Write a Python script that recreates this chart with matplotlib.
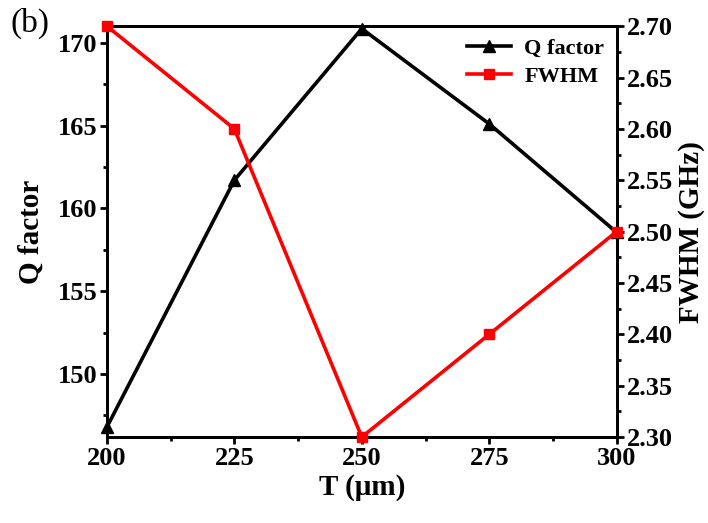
import matplotlib.pyplot as plt
from matplotlib.ticker import MultipleLocator, AutoMinorLocator

# data
thickness = [200, 225, 250, 275, 300]
q_factor = [146.8, 161.7, 170.85, 165.1, 158.55]
fwhm = [2.70, 2.60, 2.30, 2.40, 2.50]

plt.rcParams["font.family"] = "Liberation Serif"
plt.rcParams["font.weight"] = "bold"

fig = plt.figure(figsize=(7.08, 5.23), dpi=100)
ax = fig.add_axes([0.151, 0.1644, 0.72, 0.7856])
ax2 = ax.twinx()

l1, = ax.plot(thickness, q_factor, color="black", lw=2.6, marker="^", ms=8,
              label="Q factor", clip_on=False, zorder=3)
l2, = ax2.plot(thickness, fwhm, color="red", lw=2.6, marker="s", ms=7,
               label="FWHM", clip_on=False, zorder=3)

ax.set_xlim(200, 300)
ax.set_ylim(146.2, 171.0)
ax2.set_ylim(2.30, 2.70)

ax.xaxis.set_major_locator(MultipleLocator(25))
ax.xaxis.set_minor_locator(AutoMinorLocator(2))
ax.yaxis.set_major_locator(MultipleLocator(5))
ax.yaxis.set_minor_locator(AutoMinorLocator(2))
ax2.yaxis.set_major_locator(MultipleLocator(0.05))
ax2.yaxis.set_minor_locator(AutoMinorLocator(2))
ax2.yaxis.set_major_formatter(plt.FormatStrFormatter("%.2f"))

for a in (ax, ax2):
    a.tick_params(which="major", direction="out", length=5, width=2, labelsize=19, pad=2)
    a.tick_params(which="minor", direction="out", length=3, width=2)
    for s in a.spines.values():
        s.set_linewidth(2)
ax.tick_params(axis="x", top=False)

ax.set_xlabel("T (μm)", fontsize=21, fontweight="bold", labelpad=3)
ax.set_ylabel("Q factor", fontsize=21, fontweight="bold", labelpad=9)
ax2.set_ylabel("FWHM (GHz)", fontsize=21, fontweight="bold", labelpad=4)

ax2.legend(handles=[l1, l2], loc="upper right", frameon=False,
           prop={"weight": "bold", "size": 16}, handlelength=2.0,
           handletextpad=0.6, borderaxespad=0.15, labelspacing=0.35)

fig.text(0.015, 0.985, "(b)", fontsize=24, fontweight="normal", va="top", ha="left")

fig.savefig("out.png", dpi=100)
